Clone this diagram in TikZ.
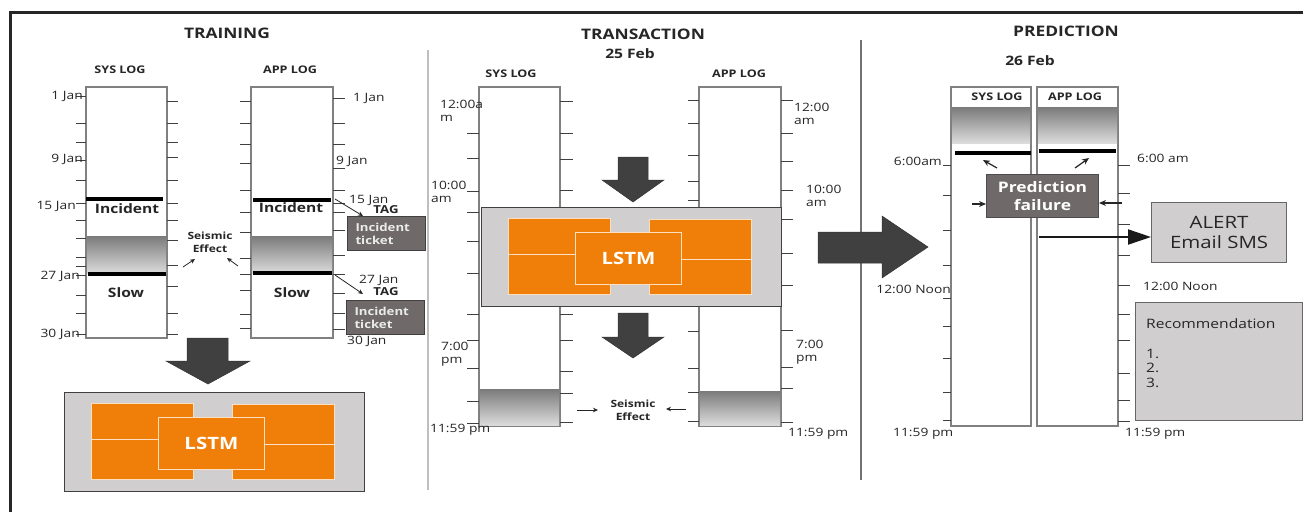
\documentclass[tikz,border=0pt]{standalone}
\usepackage{fontspec}
\setmainfont{Open Sans}[FakeStretch=1.2]
\usetikzlibrary{arrows.meta}
\definecolor{lorange}{HTML}{F07F09}
\definecolor{boxgray}{HTML}{D0CECE}
\definecolor{arrowdark}{HTML}{404040}
\definecolor{ticket}{HTML}{6F6969}
\definecolor{txt}{HTML}{262626}
\tikzset{
 colbox/.style={draw=black!50, line width=1.3pt, fill=white, anchor=north west, inner sep=0pt, outer sep=0pt},
 grad/.style={top color=black!52, bottom color=black!14, draw=none, anchor=north west, inner sep=0pt, outer sep=0pt},
 tickln/.style={draw=black!75, line width=0.9pt},
 evline/.style={line width=3.5pt, black},
 lbl/.style={font=\fontsize{11.5}{13.5}\selectfont, text=txt, inner sep=0pt, align=left},
 headtxt/.style={font=\bfseries\fontsize{14.5}{16}\selectfont, text=txt, inner sep=0pt},
 datetxt/.style={font=\bfseries\fontsize{13}{15}\selectfont, text=txt, inner sep=0pt},
 logtxt/.style={font=\bfseries\fontsize{10.5}{12}\selectfont, text=txt, inner sep=0pt},
 evtxt/.style={font=\bfseries\fontsize{13}{15}\selectfont, text=txt, inner sep=0pt},
 seis/.style={font=\bfseries\fontsize{10}{12.5}\selectfont, text=txt, inner sep=0pt, align=center},
 tagtxt/.style={font=\bfseries\fontsize{11}{13}\selectfont, text=txt, inner sep=0pt},
 ticketbox/.style={fill=ticket, draw=black!75, line width=1pt, anchor=north west, text width=62pt, inner xsep=8pt, inner ysep=3pt, align=left, minimum height=34pt, font=\bfseries\fontsize{11}{13}\selectfont, text=black!8},
 blockarr/.style={fill=arrowdark, draw=black!80, line width=0.5pt},
 thinarr/.style={-{Stealth[length=5pt,width=4.5pt]}, line width=0.8pt, black!85},
 midarr/.style={-{Stealth[length=7pt,width=6pt]}, line width=1.2pt, black!85},
 lstmouter/.style={fill=boxgray, draw=black!75, line width=1.2pt, anchor=north west, inner sep=0pt, minimum width=300pt, minimum height=99pt},
 orng/.style={fill=lorange, draw=white!75!lorange, line width=0.8pt, anchor=north west, inner sep=0pt},
 graybox/.style={fill=boxgray, draw=black!60, line width=1.2pt, anchor=north west, inner sep=0pt},
}
\newcommand{\lstmunit}[3]{%
 \begin{scope}[shift={(#2,#3)}]
  \node[lstmouter] (#1) at (0,0) {};
  \node[orng, minimum width=102pt, minimum height=76pt] (#1l) at (27,11) {};
  \node[orng, minimum width=102pt, minimum height=75pt] (#1r) at (168,12) {};
  \draw[white!75!lorange, line width=0.8pt] (27,47) -- (94,47);
  \draw[white!75!lorange, line width=0.8pt] (200,52) -- (270,52);
  \node[orng, minimum width=106pt, minimum height=52pt, font=\bfseries\fontsize{17}{19}\selectfont, text=white] (#1c) at (94,25) {LSTM};
 \end{scope}}
\begin{document}
\begin{tikzpicture}[x=1pt,y=-1pt]
\useasboundingbox (0,0) rectangle (1303,512);
\fill[white] (0,0) rectangle (1303,512);
% frame
\draw[line width=3pt, black!85] (10,512) -- (10,12) -- (1303,12);
% separators
\draw[line width=2pt, black!25] (428,50) -- (428,490);
\draw[line width=1.5pt, black!55] (861,40) -- (861,480);

%================ TRAINING ================
\node[headtxt] (trainh) at (227,33) {TRAINING};
\node[logtxt] (tsysh) at (120,70) {SYS LOG};
\node[logtxt] (tapph) at (290,70) {APP LOG};
\node[colbox, minimum width=81pt, minimum height=251pt] (tsys) at (86,87) {};
\node[colbox, minimum width=82pt, minimum height=251pt] (tapp) at (251,87) {};
\node[grad, minimum width=79pt, minimum height=37pt] (tsysg) at (87,236) {};
\node[grad, minimum width=80pt, minimum height=37pt] (tappg) at (252,236) {};
\draw[evline] (86,199) -- (163,199);
\draw[evline] (253,200) -- (331,200);
\draw[evline] (88,274) -- (166,274);
\draw[evline] (253,273) -- (332,273);
\node[evtxt] (tinc1) at (127,209) {Incident};
\node[evtxt] (tinc2) at (291,208) {Incident};
\node[evtxt] (tslow1) at (126,293) {Slow};
\node[evtxt] (tslow2) at (292,293) {Slow};
% ticks
\foreach \y in {96,123,142,160,180,203,220,238,257,266,275,295,313,334} \draw[tickln] (76,\y) -- (86,\y);
\foreach \y in {101,123,142,157,180,203,220,240,265,286,313,334} \draw[tickln] (167,\y) -- (178,\y);
\foreach \y in {101,123,144,163,190,212,232,258,274,290,314,328} \draw[tickln] (240,\y) -- (251,\y);
\foreach \y in {98,123,144,168,190,203,212,230,255,274,293,313,329} \draw[tickln] (333,\y) -- (345,\y);
% date labels
\node[lbl, anchor=east] (l1jan) at (83,96) {1 Jan};
\node[lbl, anchor=east] (l9jan) at (83,159) {9 Jan};
\node[lbl, anchor=east] (l15jan) at (76,206) {15 Jan};
\node[lbl, anchor=east] (l27jan) at (80,276) {27 Jan};
\node[lbl, anchor=east] (l30jan) at (80,334) {30 Jan};
\node[lbl, anchor=west] (r1jan) at (353,98) {1 Jan};
\node[lbl, anchor=west] (r9jan) at (336,161) {9 Jan};
\node[lbl, anchor=west] (r15jan) at (349,200) {15 Jan};
\node[lbl, anchor=west] (r27jan) at (359,280) {27 Jan};
\node[lbl, anchor=west] (r30jan) at (347,341) {30 Jan};
% tags and tickets
\node[tagtxt] (tag1) at (386,210) {TAG};
\node[tagtxt] (tag2) at (386,292) {TAG};
\node[ticketbox] (tk1) at (347,216) {Incident\\ticket};
\node[ticketbox] (tk2) at (346,300) {Incident\\ticket};
\coordinate (ta1s) at (335,199);
\coordinate (ta1e) at (363,216);
\coordinate (ta2s) at (335,275);
\coordinate (ta2e) at (363,294);
\draw[thinarr] (ta1s) -- (ta1e);
\draw[thinarr] (ta2s) -- (ta2e);
% seismic
\node[seis] (tseis) at (210,242) {Seismic\\Effect};
\coordinate (ts1s) at (183,267);
\coordinate (ts1e) at (195,259);
\coordinate (ts2s) at (238,266);
\coordinate (ts2e) at (227,258);
\draw[thinarr] (ts1s) -- (ts1e);
\draw[thinarr] (ts2s) -- (ts2e);
% down arrow
\draw[blockarr] (187,338) -- (228,338) -- (228,361) -- (250,361) -- (208,384) -- (166,361) -- (187,361) -- cycle;
\lstmunit{lstmA}{64}{392}

%================ TRANSACTION ================
\node[headtxt] (transh) at (643,34) {TRANSACTION};
\node[datetxt] (d25) at (630,54) {25 Feb};
\node[logtxt] (xsysh) at (511,74) {SYS LOG};
\node[logtxt] (xapph) at (739,74) {APP LOG};
\node[colbox, minimum width=81pt, minimum height=339pt] (xsys) at (479,87) {};
\node[colbox, minimum width=82pt, minimum height=339pt] (xapp) at (699,87) {};
\node[grad, minimum width=79pt, minimum height=36pt] (xsysg) at (480,389) {};
\node[grad, minimum width=80pt, minimum height=34pt] (xappg) at (700,391) {};
\foreach \y in {133,158,191,212,241,273,314,340,368,401,423} \draw[tickln] (467,\y) -- (479,\y);
\foreach \y in {101,133,159,190,314,340,371,393,422} \draw[tickln] (560,\y) -- (573,\y);
\foreach \y in {100,123,155,181,200,331,368,392,421} \draw[tickln] (688,\y) -- (699,\y);
\foreach \y in {100,133,161,190,219,253,285,330,367,388,422} \draw[tickln] (781,\y) -- (793,\y);
\node[lbl, anchor=west] (x1200a) at (440,111) {12:00a\\m};
\node[lbl, anchor=west] (x1000a) at (431,192) {10:00\\am};
\node[lbl, anchor=west] (x700p) at (441,354) {7:00\\pm};
\node[lbl, anchor=west] (x1159a) at (430,430) {11:59 pm};
\node[lbl, anchor=west] (y1200a) at (794,114) {12:00\\am};
\node[lbl, anchor=west] (y1000a) at (806,196) {10:00\\am};
\node[lbl, anchor=west] (y700p) at (796,352) {7:00\\pm};
\node[lbl, anchor=west] (y1159a) at (788,434) {11:59 pm};
\draw[blockarr] (618,157) -- (648,157) -- (648,180) -- (664,180) -- (633,202) -- (602,180) -- (618,180) -- cycle;
\lstmunit{lstmB}{481}{207}
\draw[blockarr] (618,313) -- (648,313) -- (648,337) -- (664,337) -- (633,358) -- (602,337) -- (618,337) -- cycle;
\node[seis] (xseis) at (633,410) {Seismic\\Effect};
\coordinate (xs1s) at (577,410);
\coordinate (xs1e) at (598,410);
\coordinate (xs2s) at (686,409);
\coordinate (xs2e) at (666,409);
\draw[thinarr] (xs1s) -- (xs1e);
\draw[thinarr] (xs2s) -- (xs2e);

% big right arrow
\draw[blockarr] (818,232) -- (882,232) -- (882,216) -- (928,247) -- (882,278) -- (882,263) -- (818,263) -- cycle;

%================ PREDICTION ================
\node[headtxt] (predh) at (1066,31) {PREDICTION};
\node[datetxt] (d26) at (1030,61) {26 Feb};
\node[colbox, minimum width=80pt, minimum height=339pt] (psys) at (951,87) {};
\node[colbox, minimum width=81pt, minimum height=339pt] (papp) at (1037,87) {};
\node[grad, minimum width=78pt, minimum height=36pt] (psysg) at (952,107) {};
\node[grad, minimum width=79pt, minimum height=36pt] (pappg) at (1038,107) {};
\node[logtxt] (psysh) at (997,97) {SYS LOG};
\node[logtxt] (papph) at (1075,97) {APP LOG};
\draw[evline] (955,153) -- (1031,153);
\draw[evline] (1039,151) -- (1116,151);
\foreach \y in {165,195,230,265,298,326,358,392,420} \draw[tickln] (943,\y) -- (951,\y);
\foreach \y in {165,193,224,255,285,314,340,373,400,421} \draw[tickln] (1118,\y) -- (1130,\y);
\node[lbl, anchor=east] (p600a) at (942,161) {6:00am};
\node[lbl, anchor=east] (p1200n) at (951,289) {12:00 Noon};
\node[lbl, anchor=west] (p1159) at (893,434) {11:59 pm};
\node[lbl, anchor=west] (q600a) at (1137,158) {6:00 am};
\node[lbl, anchor=west] (q1200n) at (1143,286) {12:00 Noon};
\node[lbl, anchor=west] (q1159) at (1125,434) {11:59 pm};
\node[fill=ticket, draw=black!70, line width=1pt, anchor=north west, inner sep=0pt, minimum width=112pt, minimum height=43pt, align=center, font=\bfseries\fontsize{14.5}{18}\selectfont, text=white] (pfail) at (986,174) {Prediction\\failure};
\coordinate (pa1s) at (997,168);
\coordinate (pa1e) at (983,160);
\coordinate (pa2s) at (1075,168);
\coordinate (pa2e) at (1089,158);
\draw[midarr] (pa1s) -- (pa1e);
\draw[midarr] (pa2s) -- (pa2e);
\coordinate (pa3s) at (972,204);
\coordinate (pa4s) at (1122,203);
\draw[midarr] (pa3s) -- (pfail.west |- pa3s);
\draw[midarr] (pa4s) -- (pfail.east |- pa4s);
\node[graybox, minimum width=135pt, minimum height=60pt, align=center, font=\fontsize{17}{20}\selectfont, text=txt] (alert) at (1151,202) {ALERT\\Email SMS};
\coordinate (pa5s) at (1039,237);
\draw[-{Triangle[length=23pt,width=15pt]}, line width=2pt, black!90] (pa5s) -- (alert.west |- pa5s);
\node[graybox, minimum width=167pt, minimum height=118pt] (recbox) at (1135,302) {};
\node[font=\fontsize{13}{15}\selectfont, text=txt, inner sep=0pt, anchor=west] (rectxt) at (1146,324) {Recommendation};
\node[font=\fontsize{13}{14.5}\selectfont, text=txt, inner sep=0pt, anchor=north west, align=left] (reclist) at (1146,349) {1.\\2.\\3.};
\end{tikzpicture}
\end{document}
